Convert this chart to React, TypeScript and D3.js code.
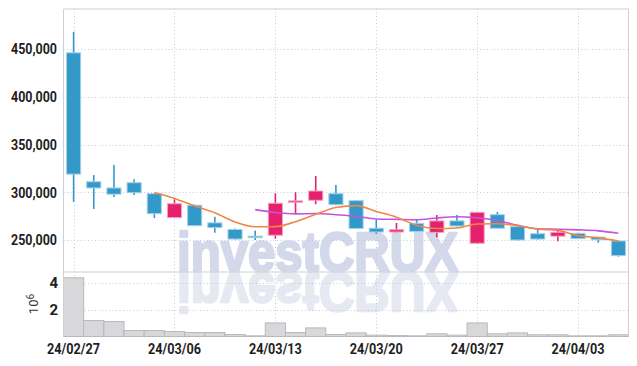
import React, { useEffect, useRef } from "react";
import * as d3 from "d3";

const dates = [
  "24/02/27", "24/02/28", "24/02/29", "24/03/04", "24/03/05", "24/03/06", "24/03/07",
  "24/03/08", "24/03/11", "24/03/12", "24/03/13", "24/03/14", "24/03/15", "24/03/18",
  "24/03/19", "24/03/20", "24/03/21", "24/03/22", "24/03/25", "24/03/26", "24/03/27",
  "24/03/28", "24/03/29", "24/04/01", "24/04/02", "24/04/03", "24/04/04", "24/04/05",
];
const opens = [
  446000, 311000, 304500, 310000, 298500, 273400, 286400, 268000, 261000, 254000, 255000,
  290000, 291600, 298500, 291200, 262300, 258400, 267500, 258000, 270000, 246600, 276500,
  264000, 256600, 254000, 257000, 253000, 249000,
];
const closes = [
  319000, 304500, 298000, 299500, 277600, 288000, 265000, 263000, 251000, 252500, 288500,
  291000, 301300, 287000, 262000, 258400, 260800, 259000, 270000, 264700, 279000, 262300,
  250000, 251000, 258100, 251400, 250300, 233600,
];
const highs = [
  468000, 318000, 328600, 313600, 299000, 292600, 287000, 274400, 262000, 260000, 299000,
  300000, 317000, 307600, 292000, 271000, 267800, 271700, 276200, 276200, 279500, 279400,
  264500, 261300, 261300, 257500, 253500, 249500,
];
const lows = [
  290000, 282500, 295000, 297000, 273000, 273000, 264500, 257700, 250500, 250000, 251400,
  277300, 287400, 286500, 261500, 256300, 258000, 258500, 253000, 264200, 246000, 261800,
  249500, 250500, 248700, 251000, 247200, 232600,
];
// volume in millions
const volumes = [
  4.37, 1.19, 1.11, 0.44, 0.44, 0.37, 0.3, 0.3, 0.15, 0.05, 1.01, 0.3, 0.64, 0.15, 0.27,
  0.1, 0.07, 0.05, 0.2, 0.1, 1.01, 0.2, 0.27, 0.13, 0.13, 0.05, 0.05, 0.13,
];
const ma5 = [
  null, null, null, null, 299700, 293500, 285600, 278600, 268900, 263900, 264000, 269200,
  276900, 284100, 286000, 279900, 273900, 265400, 262000, 262600, 266700, 267000, 265200,
  261400, 260100, 254600, 252200, 248900,
];
const ma10 = [
  null, null, null, null, null, null, null, null, null, 281800, 278800, 277400, 277700,
  276500, 274900, 272000, 271600, 271200, 273100, 274300, 273300, 270500, 265300, 261700,
  261300, 260600, 259600, 257000,
];
const priceTicks = [250000, 300000, 350000, 400000, 450000];
const volumeTicks = [2, 4];
const dateTicks = ["24/02/27", "24/03/06", "24/03/13", "24/03/20", "24/03/27", "24/04/03"];

const W = 637;
const H = 366;
const UP = "#e5206c";
const DOWN = "#3399c9";
const FONT = "Roboto, 'DejaVu Sans Condensed', sans-serif";

export default function App() {
  const ref = useRef<SVGSVGElement>(null);

  useEffect(() => {
    const svg = d3.select(ref.current);
    svg.selectAll("*").remove();

    const left = 63.5, right = 628.5, top = 9, split = 272, bottom = 336.5;

    const x = d3.scaleBand<string>().domain(dates).range([left, right]).padding(0);
    const cx = (d: string) => (x(d) as number) + x.bandwidth() / 2;
    const y = d3.scaleLinear().domain([216500, 491900]).range([split, top]);
    const yv = d3.scaleLinear().domain([0, 4.8]).range([bottom, split]);

    svg.append("rect").attr("width", W).attr("height", H).attr("fill", "#fff");

    // watermark + reflection
    const wm = svg.append("g")
      .style("font-family", "'Liberation Sans', Arial, sans-serif")
      .style("font-weight", 700).style("font-size", "56px")
      .attr("stroke-width", 2.5).attr("stroke-linejoin", "round");
    wm.append("text")
      .attr("x", 177).attr("y", split - 1)
      .attr("textLength", 281).attr("lengthAdjust", "spacingAndGlyphs")
      .attr("fill", "#d3d8ea").attr("stroke", "#d3d8ea").text("investCRUX");
    wm.append("text")
      .attr("x", 177).attr("y", split - 1)
      .attr("transform", `translate(0, ${2 * split}) scale(1,-1)`)
      .attr("textLength", 281).attr("lengthAdjust", "spacingAndGlyphs")
      .attr("fill", "#e7e9f2").attr("stroke", "#e7e9f2").text("investCRUX");

    // grid
    const grid = svg.append("g").attr("stroke", "#c5cadb").attr("stroke-width", 1)
      .attr("stroke-dasharray", "1,2.5");
    grid.selectAll("line.h").data(priceTicks).enter().append("line")
      .attr("x1", left).attr("x2", right)
      .attr("y1", d => Math.round(y(d)) + 0.5).attr("y2", d => Math.round(y(d)) + 0.5);
    grid.selectAll("line.v").data(volumeTicks).enter().append("line")
      .attr("x1", left).attr("x2", right)
      .attr("y1", d => Math.round(yv(d)) + 0.5).attr("y2", d => Math.round(yv(d)) + 0.5);
    grid.selectAll("line.d").data(dateTicks).enter().append("line")
      .attr("x1", d => Math.round(cx(d)) + 0.5).attr("x2", d => Math.round(cx(d)) + 0.5)
      .attr("y1", top).attr("y2", bottom);

    // volume bars
    svg.append("g").selectAll("rect").data(dates).enter().append("rect")
      .attr("x", d => x(d) as number)
      .attr("width", x.bandwidth())
      .attr("y", (d, i) => yv(volumes[i]))
      .attr("height", (d, i) => bottom - yv(volumes[i]))
      .attr("fill", "#d8d8db").attr("stroke", "#b9b9bd").attr("stroke-width", 1);

    // candles
    const candles = svg.append("g").selectAll("g").data(dates).enter().append("g")
      .attr("fill", (d, i) => (closes[i] >= opens[i] ? UP : DOWN))
      .attr("stroke", (d, i) => (closes[i] >= opens[i] ? UP : DOWN));
    const bw = x.bandwidth() * 0.7;
    candles.append("line")
      .attr("x1", d => cx(d)).attr("x2", d => cx(d))
      .attr("y1", (d, i) => y(highs[i])).attr("y2", (d, i) => y(lows[i]))
      .attr("stroke-width", 1.6);
    candles.append("rect")
      .attr("x", d => cx(d) - bw / 2).attr("width", bw)
      .attr("y", (d, i) => y(Math.max(opens[i], closes[i])))
      .attr("height", (d, i) => Math.max(1.5, Math.abs(y(opens[i]) - y(closes[i]))))
      .attr("stroke", (d, i) => (closes[i] >= opens[i] ? "#f4a3c2" : "#a3d2ea"))
      .attr("stroke-width", 1);

    // moving averages
    const line = d3.line<number | null>()
      .defined(d => d !== null)
      .x((d, i) => cx(dates[i]))
      .y(d => y(d as number))
      .curve(d3.curveMonotoneX);
    svg.append("path").attr("d", line(ma10)).attr("fill", "none")
      .attr("stroke", "#c653df").attr("stroke-width", 1.6);
    svg.append("path").attr("d", line(ma5)).attr("fill", "none")
      .attr("stroke", "#ee8748").attr("stroke-width", 1.6);

    // frame
    const frame = svg.append("g").attr("stroke", "#cfcfd4").attr("stroke-width", 1).attr("fill", "none");
    frame.append("line").attr("x1", left).attr("x2", right).attr("y1", top).attr("y2", top);
    frame.append("line").attr("x1", left).attr("x2", right).attr("y1", split).attr("y2", split);
    frame.append("line").attr("x1", left).attr("x2", left).attr("y1", top).attr("y2", bottom);
    frame.append("line").attr("x1", right).attr("x2", right).attr("y1", top).attr("y2", bottom);

    // price axis labels
    svg.append("g").selectAll("text").data(priceTicks).enter().append("text")
      .attr("x", 11).attr("y", d => y(d)).attr("dy", "0.36em")
      .attr("textLength", 46).attr("lengthAdjust", "spacingAndGlyphs")
      .attr("fill", "#1e1e1e")
      .style("font-family", FONT).style("font-size", "15px").style("font-weight", 700)
      .text(d => d3.format(",")(d));

    // volume axis labels
    svg.append("g").selectAll("text").data(volumeTicks).enter().append("text")
      .attr("x", 58).attr("y", d => yv(d)).attr("dy", "0.36em")
      .attr("text-anchor", "end").attr("fill", "#1e1e1e")
      .style("font-family", FONT).style("font-size", "15px").style("font-weight", 700)
      .text(d => d);
    const unit = svg.append("text")
      .attr("transform", "translate(38, 304) rotate(-90)")
      .attr("text-anchor", "middle").attr("fill", "#333")
      .style("font-family", FONT).style("font-size", "13px");
    unit.append("tspan").text("10");
    unit.append("tspan").attr("dy", "-0.45em").style("font-size", "10px").text("6");

    // date labels
    svg.append("g").selectAll("text").data(dateTicks).enter().append("text")
      .attr("x", d => cx(d) - 26.5).attr("y", 354)
      .attr("textLength", 53).attr("lengthAdjust", "spacingAndGlyphs")
      .attr("fill", "#1e1e1e")
      .style("font-family", FONT).style("font-size", "15px").style("font-weight", 700)
      .text(d => d);
  }, []);

  return (
    <svg
      ref={ref}
      width={W}
      height={H}
      style={{ position: "absolute", left: 0, top: 0, display: "block" }}
    />
  );
}
